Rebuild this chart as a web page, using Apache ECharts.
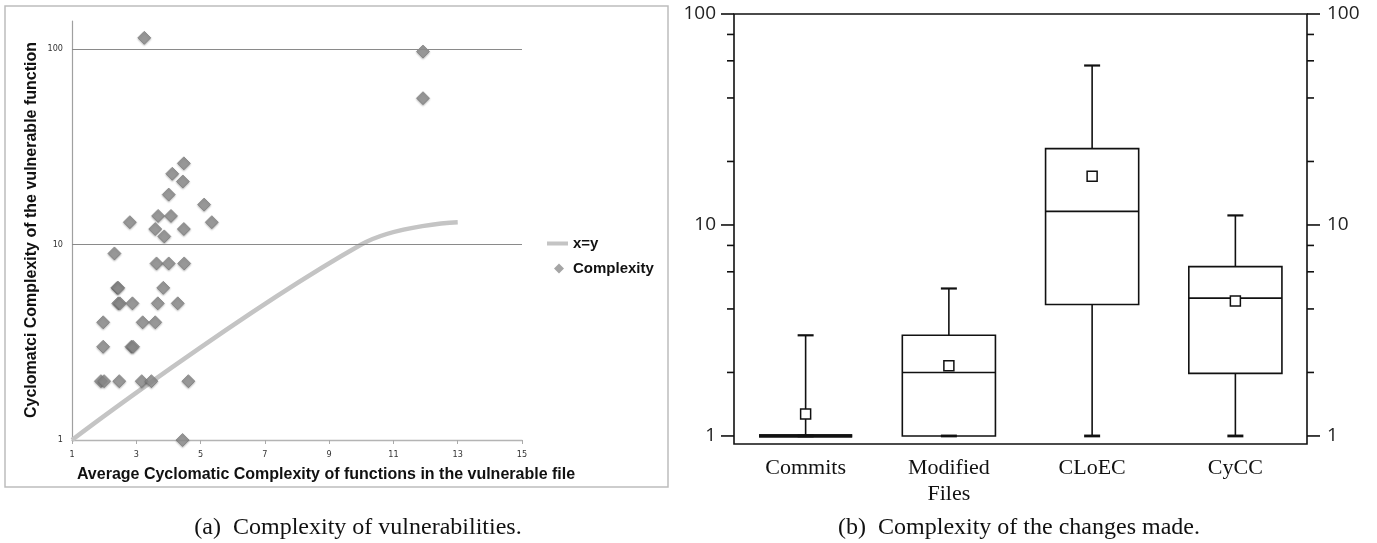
<!DOCTYPE html>
<html><head><meta charset="utf-8">
<script src="https://cdn.jsdelivr.net/npm/echarts@6/dist/echarts.min.js"></script>
<style>html,body{margin:0;padding:0;background:#fff}#c{width:1377px;height:543px}</style>
</head><body><div id="c"></div>
<script>
// ---------- Panel (a): complexity of vulnerabilities ----------
const scatterX = [3.25, 11.92, 11.92,
  4.48, 4.12, 4.45, 4.01, 5.11, 3.68, 4.08, 2.80, 5.35, 3.59, 4.48, 3.87,
  2.32, 3.63, 4.01, 4.49, 2.41, 2.44, 3.84,
  2.44, 2.49, 2.88, 3.67, 4.29,
  1.97, 3.20, 3.59,
  1.97, 2.85, 2.90,
  1.90, 2.00, 2.47, 3.17, 3.47, 4.62,
  4.44];
const scatterY = [114, 97, 56,
  26, 23, 21, 18, 16, 14, 14, 13, 13, 12, 12, 11,
  9, 8, 8, 8, 6, 6, 6,
  5, 5, 5, 5, 5,
  4, 4, 4,
  3, 3, 3,
  2, 2, 2, 2, 2, 2,
  1];
const xyLineX = [1, 10, 13];
const xyLineY = [1, 10, 13];
const aXTickLabels = ['1', '3', '5', '7', '9', '11', '13', '15'];
const aGridValues = [10, 100];

// ---------- Panel (b): complexity of the changes made ----------
const bCategories = ['Commits', 'Modified\nFiles', 'CLoEC', 'CyCC'];
const bMin = [1, 1, 1, 1];
const bQ1 = [1, 1, 4.2, 1.98];
const bMedian = [1, 2, 11.6, 4.5];
const bQ3 = [1, 3, 23, 6.35];
const bMax = [3, 5, 57, 11.1];
const bMean = [1.27, 2.15, 17, 4.36];
const bMajorTicks = [1, 10, 100];
const bMinorTicks = [2, 4, 6, 8, 20, 40, 60, 80];

const chart = echarts.init(document.getElementById('c'));

function renderBox(params, api) {
  const i = api.value(0);
  const pMin = api.coord([i, api.value(1)]);
  const pQ1 = api.coord([i, api.value(2)]);
  const pMed = api.coord([i, api.value(3)]);
  const pQ3 = api.coord([i, api.value(4)]);
  const pMax = api.coord([i, api.value(5)]);
  const pMean = api.coord([i, api.value(6)]);
  const cx = pMed[0];
  const bw = api.size([1, 0])[0] * 0.65;
  const cap = 16, ms = 10;
  const st = { stroke: '#111', lineWidth: 1.6, fill: null };
  const collapsed = Math.abs(pQ1[1] - pQ3[1]) < 1;
  return {
    type: 'group', children: [
      { type: 'line', shape: { x1: cx, y1: pQ3[1], x2: cx, y2: pMax[1] }, style: st },
      { type: 'line', shape: { x1: cx, y1: pQ1[1], x2: cx, y2: pMin[1] }, style: st },
      { type: 'line', shape: { x1: cx - cap / 2, y1: pMax[1], x2: cx + cap / 2, y2: pMax[1] }, style: Object.assign({}, st, { lineWidth: 2.2 }) },
      { type: 'line', shape: { x1: cx - cap / 2, y1: pMin[1], x2: cx + cap / 2, y2: pMin[1] }, style: Object.assign({}, st, { lineWidth: 2.8 }) },
      { type: 'rect', shape: { x: cx - bw / 2, y: pQ3[1], width: bw, height: pQ1[1] - pQ3[1] }, style: { stroke: '#111', lineWidth: collapsed ? 3.2 : 1.6, fill: 'none' } },
      { type: 'line', shape: { x1: cx - bw / 2, y1: pMed[1], x2: cx + bw / 2, y2: pMed[1] }, style: Object.assign({}, st, { lineWidth: collapsed ? 3.2 : 1.6 }) },
      { type: 'rect', shape: { x: pMean[0] - ms / 2, y: pMean[1] - ms / 2, width: ms, height: ms }, style: { stroke: '#111', lineWidth: 1.5, fill: '#fff' } }
    ]
  };
}

function tickRenderer(len) {
  return function (params, api) {
    const y = api.coord([0, api.value(1)])[1];
    const cs = params.coordSys;
    const s = { stroke: '#111', lineWidth: 1.6 };
    return {
      type: 'group', children: [
        { type: 'line', shape: { x1: cs.x - len, y1: y, x2: cs.x, y2: y }, style: s },
        { type: 'line', shape: { x1: cs.x + cs.width, y1: y, x2: cs.x + cs.width + len, y2: y }, style: s }
      ]
    };
  };
}

const narrow = '"Liberation Sans Narrow", "DejaVu Sans Condensed", "Liberation Sans", sans-serif';
const serif = '"Liberation Serif", "DejaVu Serif", serif';
const rightLogAxis = (pos, margin) => ({
  type: 'log', logBase: 10, gridIndex: 1, min: 0.916, max: 100, position: pos,
  axisLine: { show: false }, axisTick: { show: false }, splitLine: { show: false },
  axisLabel: { showMinLabel: false, fontFamily: '"Open Sans", "Noto Sans", sans-serif', fontSize: 19, color: '#222', margin: margin }
});

// legend icons: 26x10 boxes (tiny corner dots fix the box), a thick line and a small diamond
const lineIcon = 'path://M0,0 h0.01 v0.01 z M5,3 H26 V7 H5 Z M25.99,9.99 h0.01 v0.01 z';
const diamondIcon = 'path://M0,0 h0.01 v0.01 z M17,0 L22,5 L17,10 L12,5 Z M25.99,9.99 h0.01 v0.01 z';

const option = {
  animation: false,
  backgroundColor: '#fff',
  grid: [
    { left: 72, top: 21, width: 450, height: 419 },
    { left: 734, top: 14, width: 573, height: 430, show: true, borderColor: '#111', borderWidth: 1.6, backgroundColor: 'transparent' }
  ],
  legend: {
    orient: 'vertical', left: 537, top: 231, itemWidth: 26, itemHeight: 10, itemGap: 10,
    data: [
      { name: 'x=y', icon: lineIcon, itemStyle: { borderWidth: 0 } },
      { name: 'Complexity', icon: diamondIcon, itemStyle: { color: '#8e8e8e', borderWidth: 0, shadowBlur: 0 } }
    ],
    textStyle: { fontFamily: '"Liberation Sans", Arial, sans-serif', fontWeight: 'bold', fontSize: 15, color: '#111' }
  },
  xAxis: [
    { type: 'value', gridIndex: 0, min: 1, max: 15,
      axisLine: { show: true, lineStyle: { color: '#b4b4b4', width: 1.3 } },
      axisTick: { show: false }, axisLabel: { show: false }, splitLine: { show: false } },
    { type: 'category', gridIndex: 0, position: 'bottom', data: aXTickLabels, boundaryGap: false,
      axisLine: { show: false },
      axisTick: { show: true, length: 4, lineStyle: { color: '#aaa' } },
      axisLabel: { fontFamily: narrow, fontSize: 9, color: '#333', margin: 10 } },
    { type: 'category', gridIndex: 1, data: bCategories,
      axisLine: { show: false }, axisTick: { show: false }, splitLine: { show: false },
      axisLabel: { fontFamily: serif, fontSize: 22, color: '#111', margin: 11, lineHeight: 26 } }
  ],
  yAxis: [
    { type: 'log', logBase: 10, gridIndex: 0, min: 1, max: 139,
      axisLine: { show: true, lineStyle: { color: '#a0a0a0', width: 1.2 } },
      axisTick: { show: false }, splitLine: { show: false },
      axisLabel: { showMaxLabel: false, fontFamily: narrow, fontSize: 9, color: '#333', margin: 9 } },
    rightLogAxis('left', 18),
    rightLogAxis('right', 20)
  ],
  series: [
    { name: 'x=y', type: 'line', xAxisIndex: 0, yAxisIndex: 0, z: 2,
      data: xyLineX.map((x, i) => [x, xyLineY[i]]), smooth: 0.4, symbol: 'none',
      lineStyle: { color: '#c4c4c4', width: 4.5 }, itemStyle: { color: '#c4c4c4' },
      markLine: { silent: true, symbol: ['none', 'none'], label: { show: false },
        lineStyle: { color: '#8a8a8a', width: 1, type: 'solid' },
        data: aGridValues.map(v => ({ yAxis: v })) } },
    { name: 'Complexity', type: 'scatter', xAxisIndex: 0, yAxisIndex: 0, z: 3,
      symbol: 'diamond', symbolSize: 13,
      data: scatterX.map((x, i) => [x, scatterY[i]]),
      itemStyle: { color: '#8e8e8e', borderColor: '#767676', borderWidth: 0.8, shadowBlur: 2, shadowColor: 'rgba(0,0,0,0.35)', shadowOffsetY: 1 } },
    { name: 'majorTicks', type: 'custom', xAxisIndex: 2, yAxisIndex: 1, renderItem: tickRenderer(13),
      data: bMajorTicks.map(v => [0, v]), silent: true },
    { name: 'minorTicks', type: 'custom', xAxisIndex: 2, yAxisIndex: 1, renderItem: tickRenderer(7),
      data: bMinorTicks.map(v => [0, v]), silent: true },
    { name: 'boxes', type: 'custom', xAxisIndex: 2, yAxisIndex: 1, renderItem: renderBox,
      dimensions: ['cat', 'min', 'q1', 'median', 'q3', 'max', 'mean'],
      encode: { x: 0, y: [1, 2, 3, 4, 5, 6] },
      data: bCategories.map((c, i) => [i, bMin[i], bQ1[i], bMedian[i], bQ3[i], bMax[i], bMean[i]]) }
  ],
  graphic: [
    { type: 'rect', shape: { x: 5, y: 6, width: 663, height: 481 }, style: { fill: 'none', stroke: '#bdbdbd', lineWidth: 1.5 }, z: -1 },
    { type: 'text', x: 32, y: 230, rotation: Math.PI / 2,
      style: { text: 'Cyclomatci Complexity of the vulnerable function', font: 'bold 16px "Liberation Sans", Arial, sans-serif', fill: '#111', textAlign: 'center', textVerticalAlign: 'middle' } },
    { type: 'text', x: 326, y: 475,
      style: { text: 'Average Cyclomatic Complexity of functions in the vulnerable file', font: 'bold 16px "Liberation Sans", Arial, sans-serif', fill: '#111', textAlign: 'center', textVerticalAlign: 'middle' } },
    { type: 'text', x: 358, y: 528,
      style: { text: '(a)  Complexity of vulnerabilities.', font: '24px ' + serif, fill: '#111', textAlign: 'center', textVerticalAlign: 'middle' } },
    { type: 'text', x: 1019, y: 528,
      style: { text: '(b)  Complexity of the changes made.', font: '24px ' + serif, fill: '#111', textAlign: 'center', textVerticalAlign: 'middle' } }
  ]
};
chart.setOption(option);
</script>
</body></html>
